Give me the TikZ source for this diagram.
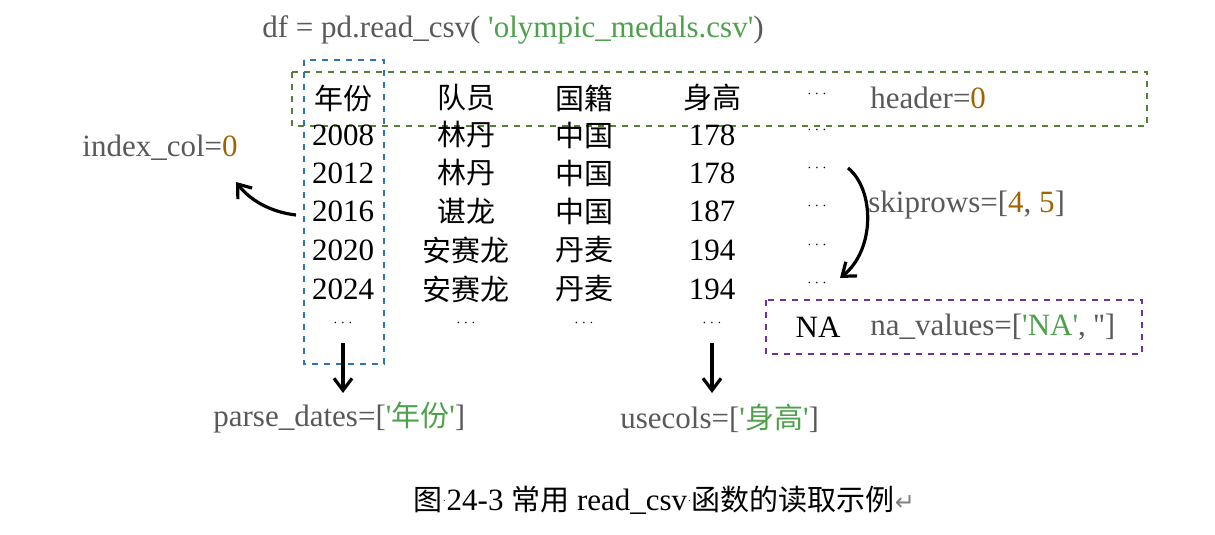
\documentclass[tikz,border=0pt]{standalone}
\usepackage{fontspec}
\setmainfont{Liberation Serif}
\newfontfamily\cjk{Noto Sans CJK SC}
\newfontfamily\dvs{DejaVu Sans}
\usetikzlibrary{arrows.meta}
\definecolor{tg}{HTML}{595959}
\definecolor{tgr}{HTML}{4EA14B}
\definecolor{tbr}{HTML}{9C6500}
\definecolor{bg}{HTML}{548235}
\definecolor{bb}{HTML}{2E75B6}
\definecolor{bp}{HTML}{7030A0}
\newcommand{\zh}[1]{{\cjk\fontsize{14.5}{16}\selectfont #1}}
\newcommand{\q}{\textquotesingle}
\begin{document}
\begin{tikzpicture}[x=0.5pt,y=-0.5pt,
  t/.style={inner sep=0pt,font=\fontsize{15.5}{17}\selectfont},
  dots/.style={inner sep=0pt,font=\scriptsize},
  lab/.style={t,text=tg,anchor=west},
  box/.style={dashed,line width=1pt},
  arr/.style={line width=1.6pt,-{Straight Barb[length=6pt,width=9pt]}}]
\useasboundingbox (0,0) rectangle (1215,535);
\node[lab] (title) at (262,30) {df = pd.read\_csv( \textcolor{tgr}{\q olympic\_medals.csv\q})};
\draw[box,bg] (292,72) rectangle (1147,126);
\draw[box,bb] (304,60) rectangle (384,364);
\draw[box,bp] (766,300) rectangle (1142,354);
\foreach \y/\a/\b/\c/\d/\n in {98/\zh{年份}/\zh{队员}/\zh{国籍}/\zh{身高}/r0,
  135/2008/\zh{林丹}/\zh{中国}/178/r1, 173/2012/\zh{林丹}/\zh{中国}/178/r2,
  211/2016/\zh{谌龙}/\zh{中国}/187/r3, 250/2020/\zh{安赛龙}/\zh{丹麦}/194/r4,
  289/2024/\zh{安赛龙}/\zh{丹麦}/194/r5}{
  \node[t] (\n a) at (343,\y) {\a};
  \node[t] (\n b) at (466,\y) {\b};
  \node[t] (\n c) at (584,\y) {\c};
  \node[t] (\n d) at (712,\y) {\d};
}
\foreach \y/\n in {94/e0,130/e1,168/e2,206/e3,245/e4,283/e5}{\node[dots] (\n) at (817,\y) {$\cdots$};}
\foreach \x/\n in {343/d1,466/d2,584/d3,712/d4}{\node[dots] (\n) at (\x,323) {$\cdots$};}
\node[lab] (hdr) at (870,98) {header=\textcolor{tbr}{0}};
\node[lab] (idx) at (82,148) {index\_col=\textcolor{tbr}{0}};
\node[lab] (skp) at (868,205) {skiprows=[\textcolor{tbr}{4}, \textcolor{tbr}{5}]};
\node[t] (na) at (818,327) {NA};
\node[lab] (nav) at (870,327) {na\_values=[\textcolor{tgr}{\q NA\q}, \q\q]};
\node[lab] (pd) at (213,418) {parse\_dates=[\textcolor{tgr}{\q\zh{年份}\q}]};
\node[lab] (uc) at (620,418) {usecols=[\textcolor{tgr}{\q\zh{身高}\q}]};
\node[t] (cap) at (664,500) {\zh{图}\raisebox{0.5ex}{\tiny$\cdot$}24-3 \zh{常用} read\_csv\raisebox{0.5ex}{\tiny$\cdot$}\zh{函数的读取示例}{\dvs\color{gray}\fontsize{12}{14}\selectfont ↵}};
\coordinate (a1s) at (296,215); \coordinate (a1e) at (236,182);
\draw[arr] (a1s) .. controls (270,212) and (250,200) .. (a1e);
\coordinate (a2s) at (848,168); \coordinate (a2e) at (840,278);
\draw[arr] (a2s) .. controls (875,190) and (875,250) .. (a2e);
\coordinate (a3s) at (343,343); \coordinate (a3e) at (343,393);
\draw[arr] (a3s) -- (a3e);
\coordinate (a4s) at (712,343); \coordinate (a4e) at (712,393);
\draw[arr] (a4s) -- (a4e);
\end{tikzpicture}
\end{document}
